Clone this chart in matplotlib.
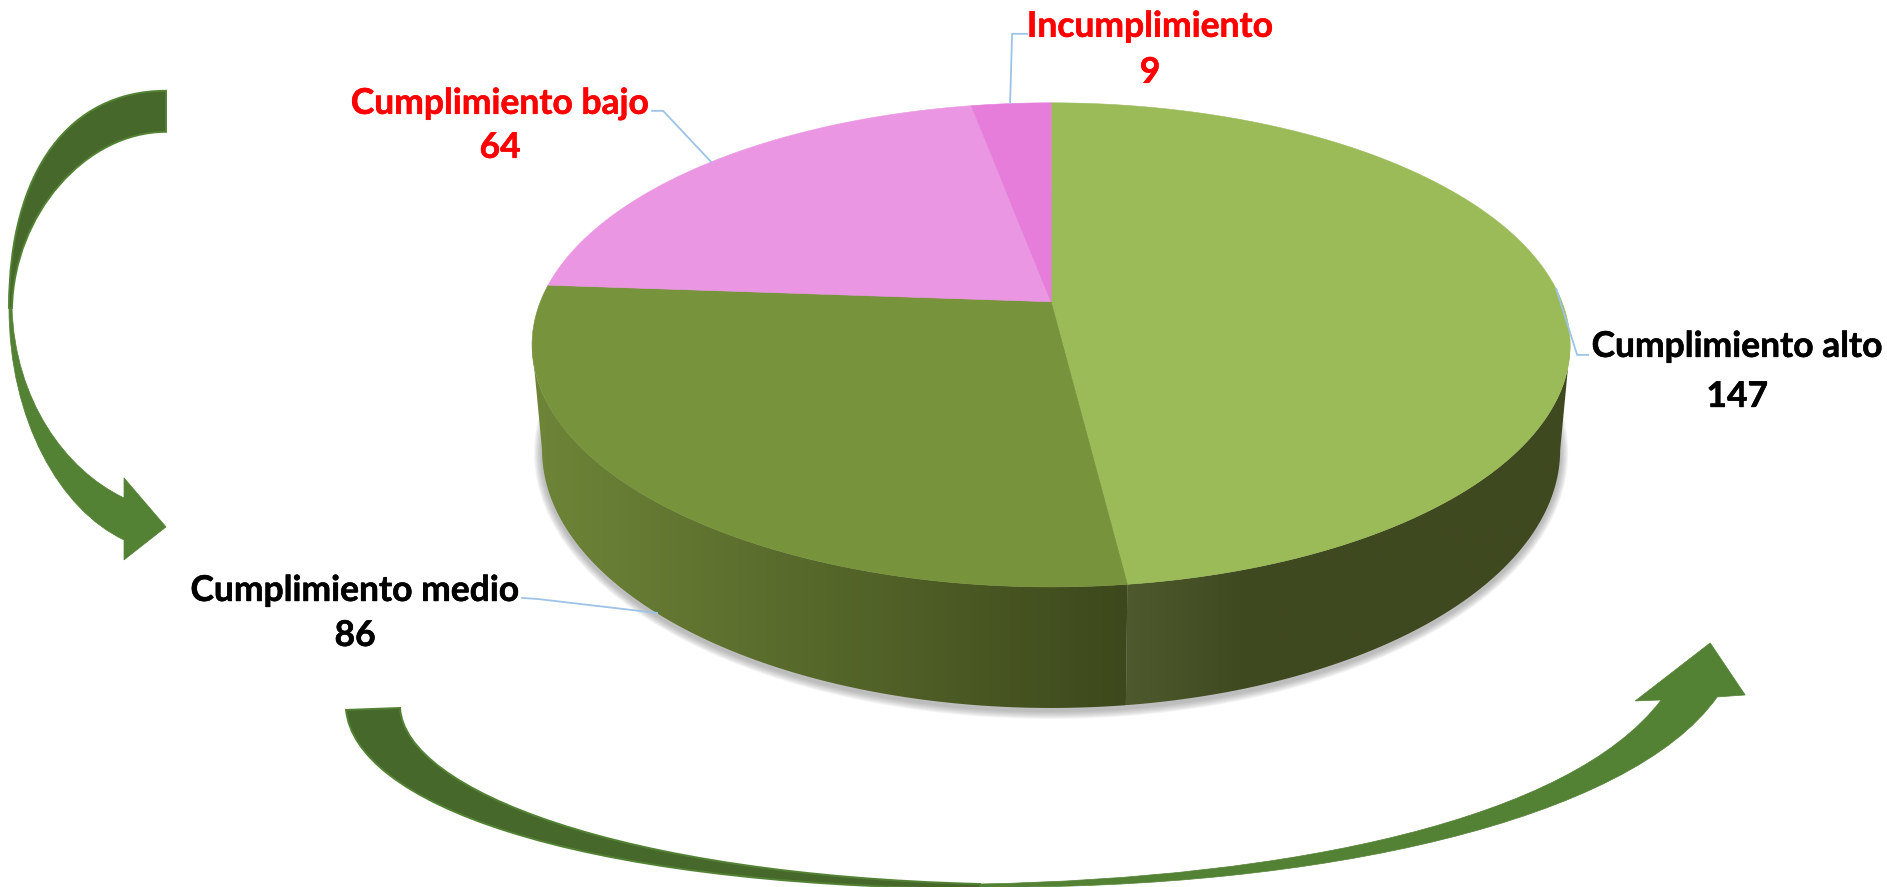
"""Perspective 3D pie of compliance levels with two curved arrows around it."""

import matplotlib.patheffects as pe
import matplotlib.pyplot as plt
import numpy as np
from matplotlib.patches import Ellipse, PathPatch, Polygon
from matplotlib.path import Path

CATEGORIES = ["Cumplimiento alto", "Cumplimiento medio", "Cumplimiento bajo", "Incumplimiento"]
VALUES = [147, 86, 64, 9]

TOP_COLORS = ["#9BBB59", "#77933C", "#EA96E2", "#E67DDA"]
LABEL_COLORS = ["black", "black", "red", "red"]
NAME_POS = [(1737, 347), (355, 591), (500, 104), (1150, 27)]
VALUE_POS = [(1737, 397), (355, 636), (500, 148), (1150, 73)]
LEADERS = [
    [(1588, 355), (1577, 355), (1556, 289)],
    [(522, 598), (537, 599), (657, 613)],
    [(652, 111), (663, 111), (711, 162)],
    [(1027, 34), (1012, 34), (1010, 103)],
]
# x stops as fractions of the wall width, then colours
WALL_STOPS = [
    ([0.0, 0.27, 1.0], [(78, 90, 45), (63, 73, 32), (63, 73, 32)]),
    ([0.0, 1.0], [(110, 133, 56), (61, 72, 28)]),
]

CX = 1051
TOP_CY, TOP_RX, TOP_RY = 345, 519, 242
BOT_CY, BOT_RX, BOT_RY = 450, 509, 258
TILT = 0.178  # how far the pie centre sits above the ellipse centre (unit disc)
WALL_LO = np.degrees(np.arccos(-TILT))
WALL_HI = 360 - WALL_LO

LEADER_COLOR = "#9DC3E6"
ARROW_DARK = "#46682B"
ARROW_LIGHT = "#548235"

plt.rcParams["font.family"] = ["Lato", "DejaVu Sans"]


def project(theta_deg, cy, rx, ry):
    """Map clockwise-from-top angles onto the rim of a tilted circle."""
    theta = np.radians(theta_deg)
    x, y = np.sin(theta), np.cos(theta)
    scale = 1 + TILT * y
    px = x * np.sqrt(1 - TILT**2) / scale
    py = (y + TILT) / scale
    return CX + rx * px, cy - ry * py


def curve(*segments):
    """Closed bezier outline: a start point, then (c1, c2, end) or a line point."""
    verts = [segments[0]]
    codes = [Path.MOVETO]
    for seg in segments[1:]:
        if len(seg) == 3:
            verts.extend(seg)
            codes.extend([Path.CURVE4] * 3)
        else:
            verts.append(seg)
            codes.append(Path.LINETO)
    verts.append(segments[0])
    codes.append(Path.CLOSEPOLY)
    return Path(verts, codes)


fig = plt.figure(figsize=(18.872, 8.872), dpi=100)
ax = fig.add_axes([0, 0, 1, 1])

# shadow under the body
for grow in range(8, 0, -1):
    ax.add_patch(Ellipse((CX, BOT_CY + 3), 2 * (BOT_RX + grow), 2 * (BOT_RY + grow),
                         fc="#707070", ec="none", alpha=0.07, zorder=1))

edges = np.cumsum([0] + VALUES) / sum(VALUES) * 360

# side walls
for i in range(len(VALUES)):
    lo, hi = max(edges[i], WALL_LO), min(edges[i + 1], WALL_HI)
    if lo >= hi:
        continue
    angles = np.linspace(lo, hi, 200)
    top_x, top_y = project(angles, TOP_CY, TOP_RX, TOP_RY)
    bot_x, bot_y = project(angles, BOT_CY, BOT_RX, BOT_RY)
    outline = np.column_stack([np.r_[top_x, bot_x[::-1]], np.r_[top_y, bot_y[::-1]]])
    x0, x1 = outline[:, 0].min(), outline[:, 0].max()
    stops, colors = WALL_STOPS[i]
    colors = np.array(colors) / 255
    t = np.linspace(0, 1, 256)
    grad = np.stack([np.interp(t, stops, colors[:, c]) for c in range(3)], axis=1)
    wall = Polygon(outline, closed=True, fc="none", ec="none", zorder=2)
    ax.add_patch(wall)
    img = ax.imshow(grad[None, :, :], extent=(x0, x1, outline[:, 1].max(), outline[:, 1].min()),
                    aspect="auto", zorder=2, interpolation="bilinear")
    img.set_clip_path(wall)

# top face
apex_x, apex_y = CX, TOP_CY - TOP_RY * TILT
for i, color in enumerate(TOP_COLORS):
    angles = np.linspace(edges[i], edges[i + 1], 200)
    rim_x, rim_y = project(angles, TOP_CY, TOP_RX, TOP_RY)
    pts = np.column_stack([np.r_[apex_x, rim_x], np.r_[apex_y, rim_y]])
    ax.add_patch(Polygon(pts, closed=True, fc=color, ec=color, lw=0.4, zorder=3))

# leader lines and labels
for name, value, color, name_pos, value_pos, leader in zip(
    CATEGORIES, VALUES, LABEL_COLORS, NAME_POS, VALUE_POS, LEADERS
):
    xs, ys = zip(*leader)
    ax.plot(xs, ys, color=LEADER_COLOR, lw=1.3, zorder=4, solid_joinstyle="miter")
    effects = [pe.withStroke(linewidth=0.4, foreground=color)]
    ax.text(*name_pos, name, color=color, fontsize=25.5, fontweight="bold",
            ha="center", va="center", zorder=5, path_effects=effects)
    ax.text(*value_pos, str(value), color=color, fontsize=25.5, fontweight="bold",
            ha="center", va="center", zorder=5, path_effects=effects)

# left arrow, lower half with head then the dark upper half
left_low = curve(
    (9, 308),
    ((9, 420), (60, 510), (124, 540)),
    (124, 560), (166, 527), (124, 478), (124, 498),
    ((65, 470), (15, 400), (12, 308)),
)
left_up = curve(
    (166, 91),
    ((70, 91), (9, 170), (9, 308)),
    (12, 308),
    ((14, 215), (85, 132), (166, 132)),
)
# bottom arrow
bottom_low = curve(
    (980, 887),
    ((1320, 890), (1630, 820), (1717, 697)),
    (1745, 695), (1710, 643), (1635, 701), (1661, 700),
    ((1570, 820), (1290, 878), (980, 884)),
)
bottom_up = curve(
    (346, 710),
    ((355, 800), (560, 885), (980, 889)),
    (980, 884),
    ((620, 875), (405, 790), (400, 708)),
)
for path in (left_low, bottom_low):
    ax.add_patch(PathPatch(path, fc=ARROW_LIGHT, ec=ARROW_LIGHT, lw=0.5, zorder=6))
for path in (left_up, bottom_up):
    ax.add_patch(PathPatch(path, fc=ARROW_DARK, ec=ARROW_LIGHT, lw=1.4, zorder=7))

ax.set_xlim(0, 1887)
ax.set_ylim(887, 0)
ax.axis("off")

fig.savefig("out.png", dpi=100, facecolor="white")
